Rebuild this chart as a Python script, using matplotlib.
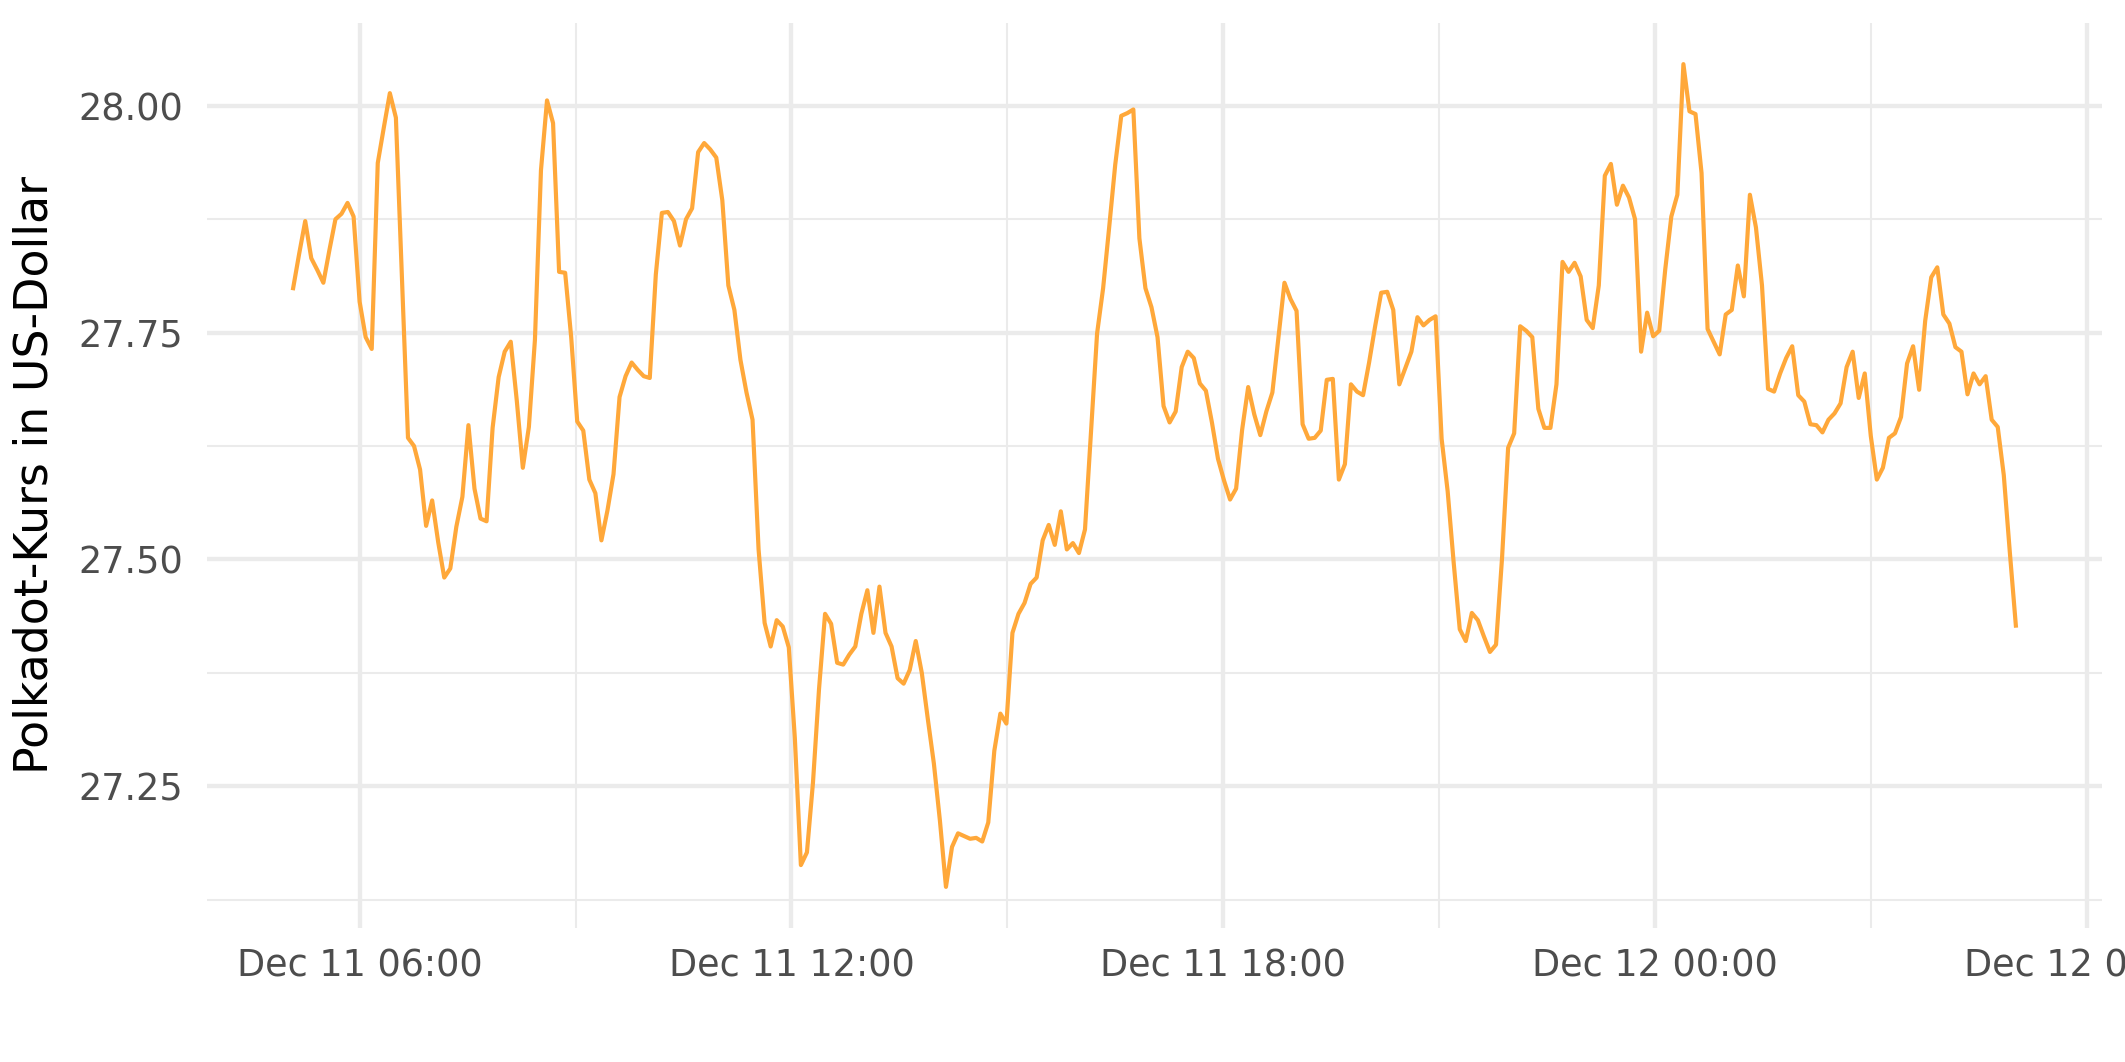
import numpy as np
import pandas as pd
import matplotlib
matplotlib.use("Agg")
import matplotlib.pyplot as plt
import matplotlib.dates as mdates

# Polkadot-Kurs, ca. 5-Minuten-Werte ueber 24 Stunden
start = "2021-12-11 05:04:36"
end = "2021-12-12 05:00:36"
kurs = [
    27.799, 27.837, 27.873, 27.832, 27.819, 27.805, 27.841, 27.875, 27.881, 27.893,
    27.878, 27.784, 27.745, 27.732, 27.937, 27.976, 28.014, 27.987, 27.811, 27.634,
    27.625, 27.599, 27.537, 27.565, 27.519, 27.480, 27.490, 27.536, 27.569, 27.648,
    27.578, 27.545, 27.542, 27.645, 27.701, 27.729, 27.740, 27.675, 27.601, 27.646,
    27.742, 27.929, 28.006, 27.981, 27.817, 27.816, 27.745, 27.652, 27.642, 27.588,
    27.573, 27.521, 27.554, 27.594, 27.679, 27.702, 27.717, 27.709, 27.702, 27.700,
    27.814, 27.882, 27.883, 27.873, 27.846, 27.875, 27.887, 27.949, 27.959, 27.952,
    27.943, 27.896, 27.802, 27.775, 27.720, 27.684, 27.654, 27.511, 27.430, 27.404,
    27.433, 27.426, 27.403, 27.303, 27.163, 27.177, 27.254, 27.357, 27.440, 27.429,
    27.386, 27.384, 27.395, 27.404, 27.440, 27.466, 27.419, 27.470, 27.419, 27.404,
    27.369, 27.363, 27.378, 27.410, 27.375, 27.324, 27.275, 27.212, 27.139, 27.183,
    27.198, 27.195, 27.192, 27.193, 27.189, 27.210, 27.289, 27.330, 27.319, 27.419,
    27.440, 27.452, 27.473, 27.480, 27.521, 27.538, 27.516, 27.553, 27.511, 27.518,
    27.507, 27.533, 27.642, 27.749, 27.799, 27.866, 27.935, 27.989, 27.992, 27.996,
    27.854, 27.799, 27.778, 27.745, 27.669, 27.651, 27.663, 27.712, 27.729, 27.722,
    27.694, 27.686, 27.651, 27.611, 27.587, 27.566, 27.578, 27.643, 27.690, 27.660,
    27.637, 27.663, 27.684, 27.745, 27.805, 27.787, 27.774, 27.649, 27.633, 27.634,
    27.642, 27.698, 27.699, 27.588, 27.605, 27.693, 27.685, 27.681, 27.717, 27.757,
    27.794, 27.795, 27.775, 27.693, 27.711, 27.729, 27.767, 27.758, 27.764, 27.768,
    27.633, 27.575, 27.496, 27.423, 27.410, 27.441, 27.433, 27.415, 27.398, 27.406,
    27.502, 27.623, 27.639, 27.757, 27.752, 27.745, 27.666, 27.645, 27.645, 27.693,
    27.828, 27.817, 27.827, 27.812, 27.764, 27.755, 27.802, 27.923, 27.936, 27.891,
    27.912, 27.899, 27.875, 27.729, 27.772, 27.746, 27.752, 27.820, 27.878, 27.902,
    28.046, 27.994, 27.991, 27.926, 27.754, 27.740, 27.726, 27.770, 27.775, 27.824,
    27.790, 27.902, 27.866, 27.802, 27.688, 27.685, 27.705, 27.722, 27.735, 27.681,
    27.674, 27.649, 27.648, 27.640, 27.654, 27.661, 27.672, 27.712, 27.729, 27.678,
    27.705, 27.636, 27.588, 27.601, 27.634, 27.639, 27.657, 27.716, 27.735, 27.687,
    27.763, 27.811, 27.822, 27.770, 27.760, 27.734, 27.729, 27.682, 27.705, 27.693,
    27.702, 27.654, 27.646, 27.593, 27.508, 27.427,
]
zeit = pd.date_range(start, end, periods=len(kurs))

yticks = [27.25, 27.50, 27.75, 28.00]
yminor = [27.125, 27.375, 27.625, 27.875]

fig = plt.figure(figsize=(2125 / 300, 1062 / 300), dpi=300)
ax = fig.add_axes([207 / 2125, 1 - 928 / 1062, (2102 - 207) / 2125, (928 - 23) / 1062])

ax.plot(zeit, kurs, color="#FFA83A", linewidth=1.0, zorder=3)
ax.margins(x=0.05, y=0.05)

# Achsen wie theme_minimal
ax.xaxis.set_major_locator(mdates.HourLocator(byhour=[0, 6, 12, 18]))
ax.xaxis.set_minor_locator(mdates.HourLocator(byhour=[3, 9, 15, 21]))
ax.xaxis.set_major_formatter(mdates.DateFormatter("%b %d %H:%M"))
ax.set_yticks(yticks)
ax.set_yticks(yminor, minor=True)
ax.set_yticklabels(["%.2f" % v for v in yticks])

ax.grid(which="major", color="#EBEBEB", linewidth=1.05)
ax.grid(which="minor", color="#EBEBEB", linewidth=0.5)
ax.set_axisbelow(True)
for s in ax.spines.values():
    s.set_visible(False)
ax.tick_params(which="both", length=0)
ax.tick_params(axis="x", labelsize=8.8, labelcolor="#4D4D4D", pad=4.6)
ax.tick_params(axis="y", labelsize=8.8, labelcolor="#4D4D4D", pad=5.8)

ax.set_ylabel("Polkadot-Kurs in US-Dollar", fontsize=11, color="black", labelpad=5)

fig.savefig("out.png", dpi=300, facecolor="white")
